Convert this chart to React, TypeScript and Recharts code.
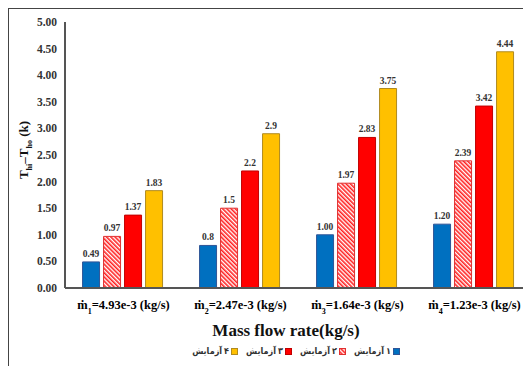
import React from "react"
import { BarChart, Bar, XAxis, YAxis, LabelList } from "recharts"

// دبی‌های جرمی (محور افقی)
const flowIndex = ["1", "2", "3", "4"]
const flowValue = ["4.93e-3", "2.47e-3", "1.64e-3", "1.23e-3"]

// اختلاف دما برای هر آزمایش
const test1 = [0.49, 0.8, 1.0, 1.2]
const test2 = [0.97, 1.5, 1.97, 2.39]
const test3 = [1.37, 2.2, 2.83, 3.42]
const test4 = [1.83, 2.9, 3.75, 4.44]

const test1Labels = ["0.49", "0.8", "1.00", "1.20"]
const test2Labels = ["0.97", "1.5", "1.97", "2.39"]
const test3Labels = ["1.37", "2.2", "2.83", "3.42"]
const test4Labels = ["1.83", "2.9", "3.75", "4.44"]

const yTicks = [0, 0.5, 1, 1.5, 2, 2.5, 3, 3.5, 4, 4.5, 5]

const seriesWord = "آزمایش"
const seriesDigits = ["۱", "۲", "۳", "۴"]

const data = flowIndex.map((idx, i) => ({
  name: idx,
  flow: flowValue[i],
  t1: test1[i],
  t2: test2[i],
  t3: test3[i],
  t4: test4[i],
  l1: test1Labels[i],
  l2: test2Labels[i],
  l3: test3Labels[i],
  l4: test4Labels[i],
}))

const serif = "'Liberation Serif', 'Times New Roman', serif"

const series = [
  { key: "t1", label: "l1", fill: "#0070C0", stroke: "#2F5597" },
  { key: "t2", label: "l2", fill: "url(#hatchRed)", stroke: "#E03030" },
  { key: "t3", label: "l3", fill: "#FF0000", stroke: "#C00000" },
  { key: "t4", label: "l4", fill: "#FFC000", stroke: "#B08A20" },
]

const FlowTick = (props: any) => {
  const { x, y, payload } = props
  const row = data.find((d) => d.name === payload.value) ?? data[0]
  return (
    <g transform={`translate(${x},${y})`}>
      <text x={0} y={0} dy={13} textAnchor="middle" fontFamily={serif} fontWeight="bold" fontSize={12.5} fill="#000">
        <tspan>ṁ</tspan>
        <tspan fontSize={8} dy={5}>{row.name}</tspan>
        <tspan dy={-5}>{"=" + row.flow + " (kg/s)"}</tspan>
      </text>
    </g>
  )
}

// لژند: از چپ به راست آزمایش ۴ ... آزمایش ۱
const LegendBox = () => (
  <div
    style={{
      display: "flex",
      justifyContent: "center",
      gap: 8,
      fontFamily: "'DejaVu Sans Condensed', 'DejaVu Sans', sans-serif",
      fontStretch: "condensed",
      fontWeight: "bold",
      fontSize: 9,
      color: "#333",
    }}
  >
    {[...series].reverse().map((s, j) => {
      const i = series.length - 1 - j
      return (
        <div key={s.key} style={{ display: "flex", alignItems: "center", gap: 2 }}>
          <span>{seriesWord}</span>
          <span>{seriesDigits[i]}</span>
          <svg width={7} height={7}>
            <rect x={0.5} y={0.5} width={6} height={6} fill={s.fill} stroke={s.stroke} strokeWidth={1} />
          </svg>
        </div>
      )
    })}
  </div>
)

export default function App() {
  return (
    <div style={{ width: 523, height: 358, overflow: "hidden" }}>
      <div
        style={{
          position: "relative",
          width: 540,
          height: 370,
          border: "1px solid #444",
          background: "#fff",
        }}
      >
        <svg width={0} height={0} style={{ position: "absolute" }}>
          <defs>
            <pattern id="hatchRed" patternUnits="userSpaceOnUse" width={3} height={3} patternTransform="rotate(-45)">
              <rect width={3} height={3} fill="#fff" />
              <rect width={1.6} height={3} fill="#FF2020" />
            </pattern>
          </defs>
        </svg>
        <BarChart
          width={540}
          height={370}
          data={data}
          margin={{ top: 13, right: 16, left: 0, bottom: 71 }}
          barCategoryGap="15%"
          barGap={4}
        >
          <XAxis
            dataKey="name"
            tick={<FlowTick />}
            tickLine={false}
            axisLine={{ stroke: "#555", strokeWidth: 2 }}
            height={20}
            interval={0}
          />
          <YAxis
            domain={[0, 5]}
            ticks={yTicks}
            tickFormatter={(v: number) => v.toFixed(2)}
            tick={{ fontFamily: serif, fontWeight: "bold", fontSize: 11.5, fill: "#333" }}
            tickLine={false}
            tickSize={0}
            tickMargin={8}
            axisLine={{ stroke: "#555", strokeWidth: 2 }}
            width={56}
          />
          {series.map((s) => (
            <Bar key={s.key} dataKey={s.key} fill={s.fill} stroke={s.stroke} strokeWidth={1} isAnimationActive={false}>
              <LabelList
                dataKey={s.label}
                position="top"
                offset={5}
                style={{ fontFamily: serif, fontWeight: "bold", fontSize: 9.5, fill: "#333" }}
              />
            </Bar>
          ))}
        </BarChart>
        <div
          style={{
            position: "absolute",
            left: 0,
            width: 554,
            top: 312,
            textAlign: "center",
            fontFamily: serif,
            fontWeight: "bold",
            fontSize: 17,
            color: "#111",
          }}
        >
          Mass flow rate(kg/s)
        </div>
        <div style={{ position: "absolute", left: 0, width: 574, top: 337 }}>
          <LegendBox />
        </div>
        <svg width={30} height={140} style={{ position: "absolute", left: 0, top: 72 }}>
          <text
            transform="translate(19,69) rotate(-90)"
            textAnchor="middle"
            fontFamily={serif}
            fontWeight="bold"
            fontSize={13}
            fill="#111"
          >
            <tspan>T</tspan>
            <tspan fontSize={8} dy={4}>hi</tspan>
            <tspan dy={-4}>–T</tspan>
            <tspan fontSize={8} dy={4}>ho</tspan>
            <tspan dy={-4}>{"    (k)"}</tspan>
          </text>
        </svg>
      </div>
    </div>
  )
}
